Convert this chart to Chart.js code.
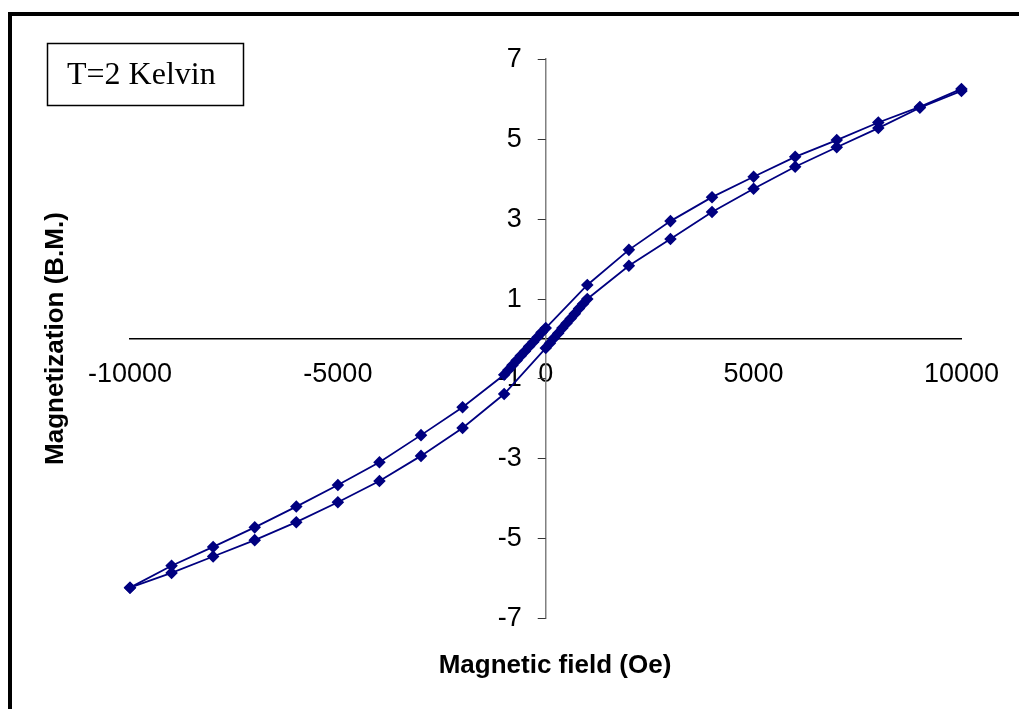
<!DOCTYPE html>
<html>
<head>
<meta charset="utf-8">
<script src="https://cdn.jsdelivr.net/npm/chart.js@4"></script>
<style>
  html, body { margin: 0; padding: 0; background: #fff; }
  #wrap { position: relative; width: 1019px; height: 709px; overflow: hidden; }
</style>
</head>
<body>
<div id="wrap"><canvas id="myChart" width="1019" height="709"></canvas></div>
<script>
// Field going down from +10000 Oe to -10000 Oe
const fieldDown = [10000, 9000, 8000, 7000, 6000, 5000, 4000, 3000, 2000, 1000,
  0, -100, -200, -300, -400, -500, -600, -700, -800, -900, -1000,
  -2000, -3000, -4000, -5000, -6000, -7000, -8000, -9000, -10000];
const momentDown = [6.25, 5.8, 5.41, 4.97, 4.55, 4.05, 3.54, 2.94, 2.22, 1.34,
  0.26, 0.15, 0.03, -0.09, -0.2, -0.32, -0.43, -0.55, -0.67, -0.79, -0.91,
  -1.72, -2.42, -3.1, -3.67, -4.21, -4.73, -5.22, -5.69, -6.24];

// Field going back up from -10000 Oe to +10000 Oe
const fieldUp = [-10000, -9000, -8000, -7000, -6000, -5000, -4000, -3000, -2000, -1000,
  0, 100, 200, 300, 400, 500, 600, 700, 800, 900, 1000,
  2000, 3000, 4000, 5000, 6000, 7000, 8000, 9000, 10000];
const momentUp = [-6.24, -5.87, -5.46, -5.05, -4.6, -4.1, -3.57, -2.94, -2.24, -1.39,
  -0.24, -0.12, 0.01, 0.13, 0.26, 0.38, 0.5, 0.62, 0.75, 0.87, 0.99,
  1.82, 2.49, 3.17, 3.75, 4.3, 4.79, 5.27, 5.78, 6.2];

const xTicks = [-10000, -5000, 0, 5000, 10000];
const yTicks = [-7, -5, -3, -1, 1, 3, 5, 7];

const navy = '#000080';
const sans = '"Liberation Sans", Arial, sans-serif';

function pts(xs, ys) {
  return xs.map((x, i) => ({ x: x, y: ys[i] }));
}

// y axis ticks + labels sit left of the vertical axis (drawn before the data)
const yAxisLeft = {
  id: 'yAxisLeft',
  beforeDatasetsDraw(chart) {
    const ctx = chart.ctx;
    const xs = chart.scales.x, ys = chart.scales.y;
    const ax = xs.getPixelForValue(0);
    ctx.save();
    ctx.strokeStyle = '#333';
    ctx.lineWidth = 1;
    ctx.fillStyle = '#000';
    ctx.font = '27px ' + sans;
    ctx.textAlign = 'right';
    ctx.textBaseline = 'middle';
    yTicks.forEach(v => {
      const py = Math.round(ys.getPixelForValue(v)) + 0.5;
      ctx.beginPath();
      ctx.moveTo(ax - 8, py);
      ctx.lineTo(ax, py);
      ctx.stroke();
      ctx.fillText(String(v), ax - 24, py);
    });
    ctx.restore();
  }
};

// frame, the "T=2 Kelvin" box and the axis titles
const decor = {
  id: 'decor',
  afterDraw(chart) {
    const ctx = chart.ctx;
    const area = chart.chartArea;
    ctx.save();
    ctx.strokeStyle = '#000';
    ctx.lineWidth = 4;
    ctx.strokeRect(10, 14, 1100, 800);

    ctx.lineWidth = 1.5;
    ctx.strokeRect(47.5, 43.5, 196, 62);
    ctx.fillStyle = '#000';
    ctx.font = '32px "Liberation Serif", "Times New Roman", serif';
    ctx.textAlign = 'left';
    ctx.textBaseline = 'alphabetic';
    ctx.fillText('T=2 Kelvin', 67, 84);

    ctx.font = 'bold 26px ' + sans;
    ctx.textAlign = 'center';
    ctx.fillText('Magnetic field (Oe)', 555, 673);

    ctx.translate(63, (area.top + area.bottom) / 2);
    ctx.rotate(-Math.PI / 2);
    ctx.fillText('Magnetization (B.M.)', 0, 0);
    ctx.restore();
  }
};

const ctx = document.getElementById('myChart').getContext('2d');
const myChart = new Chart(ctx, {
  type: 'scatter',
  data: {
    datasets: [{
      label: 'field down',
      data: pts(fieldDown, momentDown),
      showLine: true,
      clip: false,
      borderColor: navy,
      backgroundColor: navy,
      borderWidth: 1.8,
      pointStyle: 'rectRot',
      pointRadius: 5,
      pointHoverRadius: 5
    }, {
      label: 'field up',
      data: pts(fieldUp, momentUp),
      showLine: true,
      clip: false,
      borderColor: navy,
      backgroundColor: navy,
      borderWidth: 1.8,
      pointStyle: 'rectRot',
      pointRadius: 5,
      pointHoverRadius: 5
    }]
  },
  options: {
    responsive: false,
    animation: false,
    layout: { padding: { left: 130, right: 53, top: 59, bottom: 91 } },
    plugins: { legend: { display: false }, tooltip: { enabled: false } },
    scales: {
      x: {
        type: 'linear',
        min: -10000,
        max: 10000,
        position: { y: 0 },
        afterBuildTicks: (axis) => { axis.ticks = xTicks.map(v => ({ value: v })); },
        grid: { drawOnChartArea: false, drawTicks: false },
        border: { color: '#000', width: 1.5 },
        ticks: {
          color: '#000',
          font: { family: sans, size: 27 },
          padding: 20,
          maxRotation: 0,
          autoSkip: false,
          callback: (v) => String(v)
        }
      },
      y: {
        type: 'linear',
        min: -7,
        max: 7,
        position: { x: 0 },
        afterBuildTicks: (axis) => { axis.ticks = yTicks.map(v => ({ value: v })); },
        grid: { drawOnChartArea: false, drawTicks: false },
        border: { color: '#808080', width: 1.5 },
        ticks: { display: false }
      }
    }
  },
  plugins: [yAxisLeft, decor]
});
</script>
</body>
</html>
